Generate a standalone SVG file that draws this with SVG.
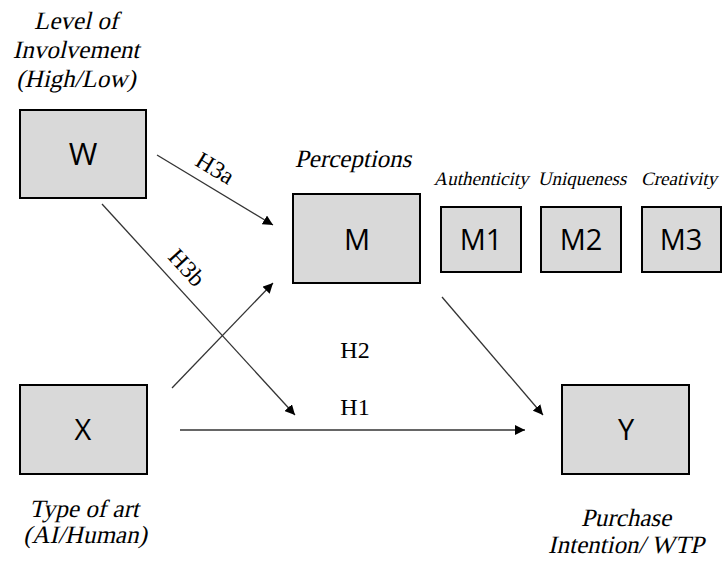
<svg xmlns="http://www.w3.org/2000/svg" width="724" height="563" viewBox="0 0 724 563">
<style>
.box{fill:#d9d9d9;stroke:#000;stroke-width:2}
.lbl{font-family:"Open Sans","Liberation Sans",sans-serif;fill:#000;text-anchor:middle}
.it{font-family:"Liberation Serif",serif;fill:#000;text-anchor:middle}
.h{font-family:"Liberation Serif",serif;fill:#000;text-anchor:middle;font-size:24px}
.ln{stroke:#333;stroke-width:1.3;fill:none;marker-end:url(#ah)}
</style>
<defs>
<marker id="ah" viewBox="0 0 10 10" refX="10" refY="5" markerWidth="10" markerHeight="10" markerUnits="userSpaceOnUse" orient="auto">
<path d="M0,0 L10,5 L0,10 z" fill="#000"/>
</marker>
</defs>
<rect width="724" height="563" fill="#fff"/>
<g id="connectors">
<line class="ln" x1="157" y1="155" x2="273" y2="225"/>
<line class="ln" x1="102" y1="204" x2="295" y2="415"/>
<line class="ln" x1="172" y1="388" x2="273" y2="283"/>
<line class="ln" x1="180" y1="430" x2="525" y2="430"/>
<line class="ln" x1="442" y1="297" x2="543" y2="415"/>
<text class="h" transform="translate(211,175) rotate(31)">H3a</text>
<text class="h" transform="translate(181,273) rotate(47.5)">H3b</text>
<text class="h" x="355" y="358">H2</text>
<text class="h" x="355" y="415">H1</text>
</g>
<g id="W">
<text class="it" font-size="25" transform="translate(76,29) skewX(-13)">Level of</text>
<text class="it" font-size="25" transform="translate(76,58) skewX(-13)">Involvement</text>
<text class="it" font-size="25" transform="translate(76,87) skewX(-13)">(High/Low)</text>
<rect class="box" x="20" y="110" width="126" height="88"/>
<text class="lbl" font-size="31" x="83" y="165">W</text>
</g>
<g id="M">
<text class="it" font-size="25" transform="translate(353,167) skewX(-13)">Perceptions</text>
<rect class="box" x="293" y="194" width="127" height="89"/>
<text class="lbl" font-size="29" x="357" y="250">M</text>
</g>
<g id="M1">
<text class="it" font-size="19" transform="translate(481,185) skewX(-13)">Authenticity</text>
<rect class="box" x="441" y="207" width="80" height="65"/>
<text class="lbl" font-size="29" x="481" y="250">M1</text>
</g>
<g id="M2">
<text class="it" font-size="19" transform="translate(582,185) skewX(-13)">Uniqueness</text>
<rect class="box" x="541" y="207" width="80" height="65"/>
<text class="lbl" font-size="29" x="581" y="250">M2</text>
</g>
<g id="M3">
<text class="it" font-size="19" transform="translate(679,185) skewX(-13)">Creativity</text>
<rect class="box" x="642" y="207" width="79" height="65"/>
<text class="lbl" font-size="29" x="681" y="250">M3</text>
</g>
<g id="X">
<rect class="box" x="20" y="385" width="127" height="89"/>
<text class="lbl" font-size="29" x="83" y="440">X</text>
<text class="it" font-size="25" transform="translate(84,517) skewX(-13)">Type of art</text>
<text class="it" font-size="25" transform="translate(85,543) skewX(-13)">(AI/Human)</text>
</g>
<g id="Y">
<rect class="box" x="562" y="385" width="127" height="89"/>
<text class="lbl" font-size="29" x="626" y="440">Y</text>
<text class="it" font-size="25" transform="translate(626,526) skewX(-13)">Purchase</text>
<text class="it" font-size="25" transform="translate(626,553) skewX(-13)">Intention/ WTP</text>
</g>
</svg>
